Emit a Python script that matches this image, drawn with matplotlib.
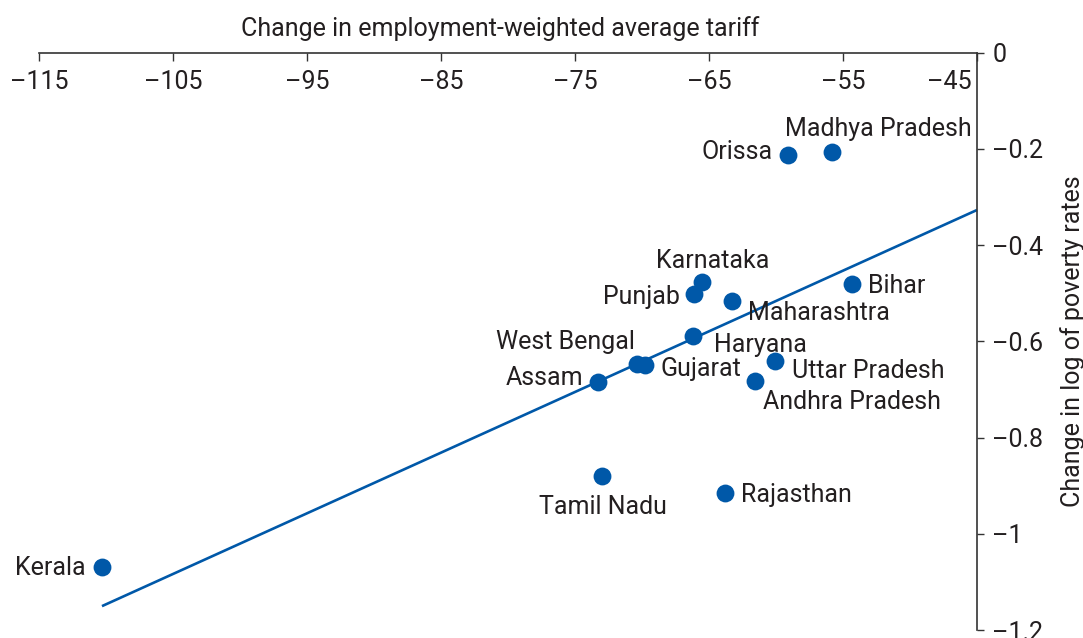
import matplotlib
matplotlib.use("Agg")
import matplotlib.pyplot as plt
import matplotlib.transforms as mtransforms
import numpy as np

# State-level data: change in tariff vs. change in log poverty rate
states = ["Kerala", "Tamil Nadu", "Rajasthan", "Assam", "West Bengal", "Gujarat",
          "Haryana", "Punjab", "Karnataka", "Maharashtra", "Bihar",
          "Uttar Pradesh", "Andhra Pradesh", "Orissa", "Madhya Pradesh"]
tariff_change = [-110.3, -73.0, -63.8, -73.3, -70.4, -69.8,
                 -66.2, -66.1, -65.5, -63.3, -54.3,
                 -60.1, -61.6, -59.1, -55.8]
poverty_change = [-1.069, -0.880, -0.915, -0.685, -0.647, -0.650,
                  -0.589, -0.502, -0.477, -0.517, -0.480,
                  -0.640, -0.683, -0.213, -0.207]

# Fitted regression line
fit_slope = 0.01261
fit_intercept = 0.2405

x_ticks = [-115, -105, -95, -85, -75, -65, -55, -45]
x_tick_labels = ["–115", "–105", "–95", "–85", "–75", "–65", "–55", "–45"]
y_ticks = [0, -0.2, -0.4, -0.6, -0.8, -1.0, -1.2]
y_tick_labels = ["0", "–0.2", "–0.4", "–0.6", "–0.8", "–1", "–1.2"]

# Label placement (pixel offsets from each point, horizontal alignment)
label_offsets = {
    "Kerala": (-16, -1, "right"),
    "Tamil Nadu": (1, -31, "center"),
    "Rajasthan": (16, -2, "left"),
    "Assam": (-14, 4, "right"),
    "West Bengal": (-2, 22, "right"),
    "Gujarat": (16, -4, "left"),
    "Haryana": (21, -9, "left"),
    "Punjab": (-14, -3, "right"),
    "Karnataka": (10, 21, "center"),
    "Maharashtra": (16, -12, "left"),
    "Bihar": (16, -2, "left"),
    "Uttar Pradesh": (17, -10, "left"),
    "Andhra Pradesh": (8, -21, "left"),
    "Orissa": (-15, 3, "right"),
    "Madhya Pradesh": (46, 23, "center"),
}

BLUE = "#0058A8"
TEXT = "#231F20"
FS = 18

plt.rcParams["font.family"] = ["Roboto", "DejaVu Sans"]
plt.rcParams["text.color"] = TEXT

fig = plt.figure(figsize=(10.83, 6.38), dpi=100)
ax = fig.add_axes([39 / 1083, 8 / 638, 938 / 1083, 577.3 / 638])

ax.set_xlim(-115, -45)
ax.set_ylim(-1.2, 0)

# Regression line from the leftmost state to the right edge
x_line = np.array([min(tariff_change), -45])
ax.plot(x_line, fit_intercept + fit_slope * x_line, color=BLUE, lw=1.9,
        solid_capstyle="butt", clip_on=False)

ax.scatter(tariff_change, poverty_change, s=165, color=BLUE, zorder=3,
           linewidths=0, clip_on=False)

for name, xv, yv in zip(states, tariff_change, poverty_change):
    dx, dy, ha = label_offsets[name]
    ax.annotate(name, (xv, yv), xytext=(dx, dy), textcoords="offset pixels",
                ha=ha, va="center", fontsize=FS, color=TEXT)

# Spines: top and right only
for side in ("left", "bottom"):
    ax.spines[side].set_visible(False)
for side in ("top", "right"):
    ax.spines[side].set_color("#333333")
    ax.spines[side].set_linewidth(1.2)

ax.xaxis.tick_top()
ax.xaxis.set_label_position("top")
ax.set_xticks(x_ticks)
ax.set_xticklabels(x_tick_labels)
ax.tick_params(axis="x", direction="in", length=5.5, width=1.0, color="#333333",
               pad=-30, labelsize=FS, labelcolor=TEXT)
ax.set_xlabel("Change in employment-weighted average tariff", fontsize=FS,
              color=TEXT)
ax.xaxis.set_label_coords(0.492, 1.02)
ax.xaxis.label.set_va("bottom")

# Shift the last x label left so it clears the right spine
last = ax.get_xticklabels()[-1]
last.set_transform(last.get_transform() +
                   mtransforms.ScaledTranslation(-28 / 100, 0, fig.dpi_scale_trans))

ax.yaxis.tick_right()
ax.yaxis.set_label_position("right")
ax.set_yticks(y_ticks)
ax.set_yticklabels(y_tick_labels)
ax.tick_params(axis="y", direction="out", length=5, width=1.0, color="#333333",
               pad=6, labelsize=FS, labelcolor=TEXT)
ax.set_ylabel("Change in log of poverty rates", fontsize=FS, color=TEXT,
              rotation=90, labelpad=12)

fig.savefig("out.png", dpi=100)
